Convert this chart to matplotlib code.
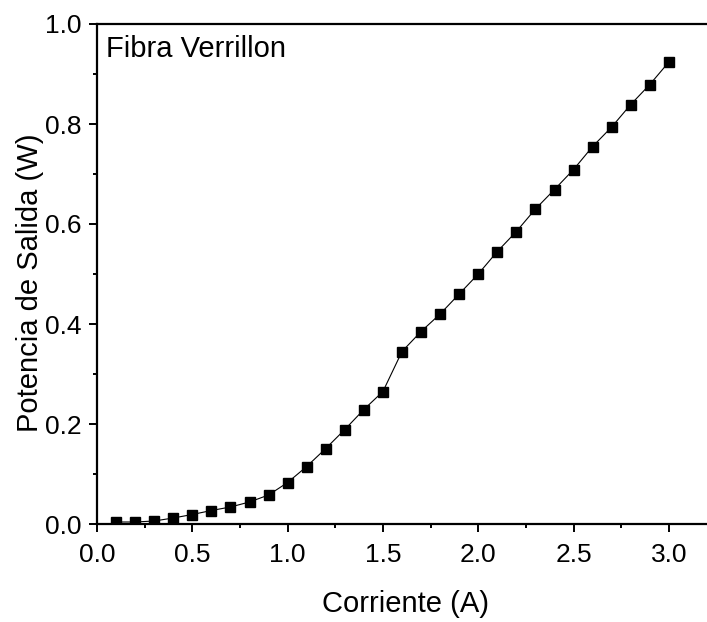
import matplotlib
matplotlib.use('Agg')
import matplotlib.pyplot as plt
from matplotlib.ticker import MultipleLocator

plt.rcParams['font.family'] = ['Liberation Sans', 'DejaVu Sans']

corriente = [0.1, 0.2, 0.3, 0.4, 0.5, 0.6, 0.7, 0.8, 0.9, 1.0,
             1.1, 1.2, 1.3, 1.4, 1.5, 1.6, 1.7, 1.8, 1.9, 2.0,
             2.1, 2.2, 2.3, 2.4, 2.5, 2.6, 2.7, 2.8, 2.9, 3.0]
potencia = [0.004, 0.004, 0.006, 0.012, 0.019, 0.027, 0.034, 0.044, 0.058, 0.083,
            0.115, 0.151, 0.189, 0.229, 0.265, 0.345, 0.385, 0.42, 0.46, 0.50,
            0.545, 0.585, 0.63, 0.669, 0.709, 0.755, 0.794, 0.839, 0.879, 0.924]

fig = plt.figure(figsize=(7.07, 6.22), dpi=100)
ax = fig.add_axes([97 / 707, 1 - 524 / 622, 1 - 97 / 707, 500 / 622])

ax.plot(corriente, potencia, color='black', lw=0.8, marker='s', ms=7.2)

ax.set_xlim(0, 3.2)
ax.set_ylim(0, 1.0)
ax.xaxis.set_major_locator(MultipleLocator(0.5))
ax.xaxis.set_minor_locator(MultipleLocator(0.25))
ax.yaxis.set_major_locator(MultipleLocator(0.2))
ax.yaxis.set_minor_locator(MultipleLocator(0.1))
ax.xaxis.set_major_formatter(plt.FormatStrFormatter('%.1f'))
ax.yaxis.set_major_formatter(plt.FormatStrFormatter('%.1f'))

for s in ax.spines.values():
    s.set_linewidth(1.6)
ax.spines['right'].set_visible(False)
ax.tick_params(which='major', direction='out', length=5.8, width=1.4, labelsize=19)
ax.tick_params(axis='x', which='major', pad=8)
ax.tick_params(axis='y', which='major', pad=5.5)
ax.tick_params(which='minor', direction='out', length=3.2, width=1.4)
ax.tick_params(top=False, right=False)

ax.set_xlabel('Corriente (A)', fontsize=21)
ax.xaxis.set_label_coords((406 - 97) / 610, (524 - 612) / 500)
ax.xaxis.label.set_va('baseline')
ax.set_ylabel('Potencia de Salida (W)', fontsize=21)
ax.yaxis.set_label_coords((38 - 97) / 610, (524 - 283) / 500)
ax.yaxis.label.set_va('baseline')

ax.text((106 - 97) / 610, (524 - 57) / 500, 'Fibra Verrillon', transform=ax.transAxes,
        fontsize=21, va='baseline', ha='left')

fig.savefig('out.png', dpi=100)
